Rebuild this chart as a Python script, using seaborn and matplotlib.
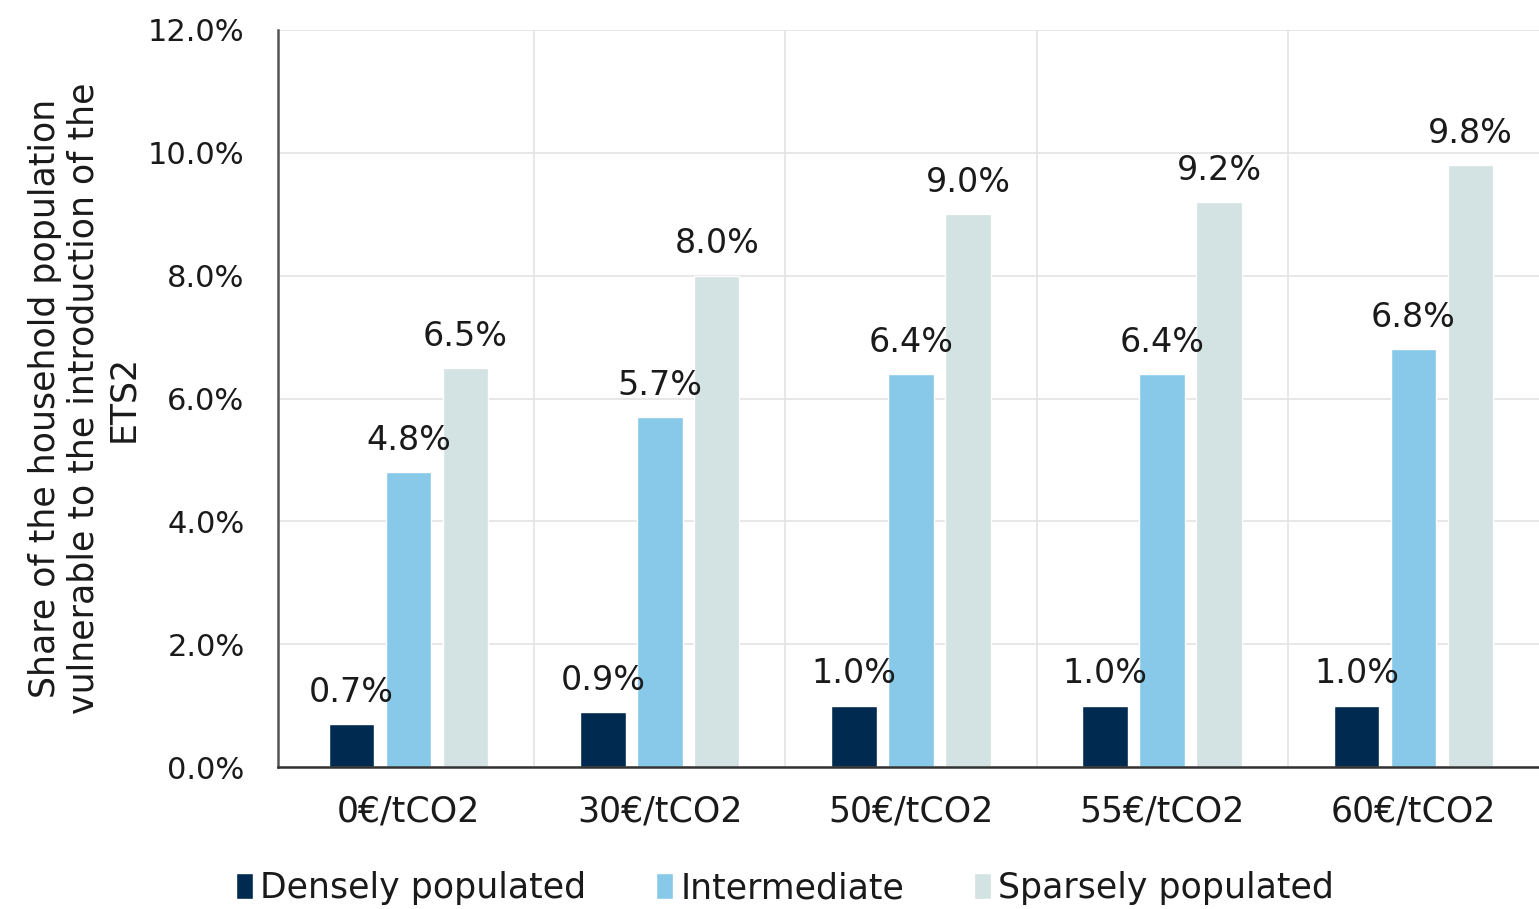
import matplotlib
matplotlib.use("Agg")
import matplotlib.pyplot as plt
import seaborn as sns
import pandas as pd

categories = ["0€/tCO2", "30€/tCO2", "50€/tCO2", "55€/tCO2", "60€/tCO2"]
series_names = ["Densely populated", "Intermediate", "Sparsely populated"]
densely = [0.7, 0.9, 1.0, 1.0, 1.0]
intermediate = [4.8, 5.7, 6.4, 6.4, 6.8]
sparsely = [6.5, 8.0, 9.0, 9.2, 9.8]
yticks = [0, 2, 4, 6, 8, 10, 12]
colors = ["#002A50", "#88C8E8", "#D3E2E2"]

rows = []
for name, vals in zip(series_names, [densely, intermediate, sparsely]):
    for c, v in zip(categories, vals):
        rows.append({"category": c, "series": name, "value": v})
df = pd.DataFrame(rows)

sns.set_theme(style="white")
plt.rcParams["font.family"] = ["DejaVu Sans"]
TXT = "#1a1a1a"

fig = plt.figure(figsize=(15.39, 9.09), dpi=100)
ax = fig.add_axes([0.1806, 0.156, 0.8194, 0.811])

sns.barplot(data=df, x="category", y="value", hue="series", order=categories,
            hue_order=series_names, palette=colors, width=0.68, gap=0.2,
            saturation=1, ax=ax, legend=True)

for cont in ax.containers:
    ax.bar_label(cont, labels=[f"{b.get_height():.1f}%" for b in cont],
                 padding=11, fontsize=24, color=TXT)

ax.set_xlim(-0.52, 4.5)
ax.set_ylim(0, 12)
ax.set_yticks(yticks)
ax.set_yticklabels([f"{t:.1f}%" for t in yticks], fontsize=22, color=TXT)
ax.tick_params(axis="x", labelsize=25, colors=TXT, pad=20, length=0)
ax.tick_params(axis="y", pad=24, length=0)
ax.set_xlabel("")
ax.set_ylabel("Share of the household population\nvulnerable to the introduction of the\nETS2",
              fontsize=25, color=TXT, linespacing=1.18, labelpad=6)

ax.set_axisbelow(True)
ax.yaxis.grid(True, color="#e3e3e3", linewidth=1.2)
ax.set_xticks([0.5, 1.5, 2.5, 3.5], minor=True)
ax.xaxis.grid(True, which="minor", color="#e3e3e3", linewidth=1.2)
ax.xaxis.grid(False, which="major")
for s in ["top", "right"]:
    ax.spines[s].set_visible(False)
ax.spines["left"].set_color("#555555")
ax.spines["left"].set_linewidth(1.8)
ax.spines["bottom"].set_color("#333333")
ax.spines["bottom"].set_linewidth(1.8)

handles, labels = ax.get_legend_handles_labels()
ax.get_legend().remove()
fig.legend(handles, labels, loc="center", bbox_to_anchor=(0.51, 0.023),
           ncol=3, frameon=False, fontsize=25, handlelength=0.5,
           handleheight=0.8, handletextpad=0.2, columnspacing=2.0,
           labelcolor=TXT)

fig.savefig("out.png", dpi=100)
